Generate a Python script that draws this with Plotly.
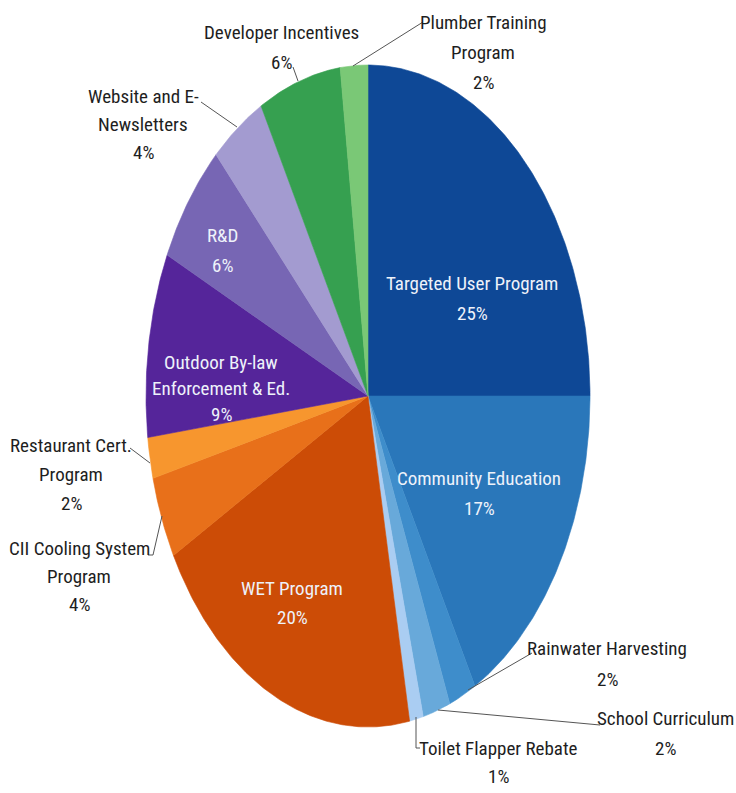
import numpy as np
import plotly.graph_objects as go

# Program budget share (%), clockwise from 12 o'clock
programs = [
    "Targeted User Program", "Community Education", "Rainwater Harvesting",
    "School Curriculum", "Toilet Flapper Rebate", "WET Program",
    "CII Cooling System Program", "Restaurant Cert. Program",
    "Outdoor By-law Enforcement & Ed.", "R&D", "Website and E-Newsletters",
    "Developer Incentives", "Plumber Training Program",
]
shares = [25, 17, 2, 2, 1, 20, 4, 2, 9, 6, 4, 6, 2]
colors = [
    "#0E4896", "#2A77BA", "#3E8DCB", "#68A9DA", "#AACDF2", "#CC4C06",
    "#E8701A", "#F7962E", "#55259A", "#7766B4", "#A39BD0", "#36A050", "#7AC876",
]

# Label text lines, one list per slice
label_lines = [
    ["Targeted User Program", "25%"],
    ["Community Education", "17%"],
    ["Rainwater Harvesting", "2%"],
    ["School Curriculum", "2%"],
    ["Toilet Flapper Rebate", "1%"],
    ["WET Program", "20%"],
    ["CII Cooling System", "Program", "4%"],
    ["Restaurant Cert.", "Program", "2%"],
    ["Outdoor By-law", "Enforcement & Ed.", "9%"],
    ["R&D", "6%"],
    ["Website and E-", "Newsletters", "4%"],
    ["Developer Incentives", "6%"],
    ["Plumber Training", "Program", "2%"],
]
inside = [True, True, False, False, False, True, False, False, True, True, False, False, False]

W, H = 736, 793
CX, CY, RX, RY = 368, 396, 222, 331

# label placement: (centre x, first line y, line step)
label_pos = [
    (472, 283, 30), (479, 478, 30), (607, 648, 31), (665, 718, 30),
    (498, 748, 28), (292, 588, 29), (79, 548, 28), (71, 445, 29),
    (221, 362, 26), (222, 235, 30), (143, 96, 28), (281, 32, 30),
    (483, 22, 30),
]

# leader lines for the outside labels
leaders = [
    [(423, 22), (353, 66)],
    [(293, 67), (298, 81)],
    [(201, 102), (237, 127)],
    [(130, 448), (150, 463)],
    [(148, 555), (153, 555), (162, 516)],
    [(532, 653), (468, 690)],
    [(600, 725), (438, 710)],
    [(420, 748), (416, 748), (416, 717)],
]

fig = go.Figure()

total = sum(shares)
start = 0.0
for name, val, col in zip(programs, shares, colors):
    a0 = start / total * 2 * np.pi
    a1 = (start + val) / total * 2 * np.pi
    t = np.linspace(a0, a1, max(8, int(val * 6)))
    xs = np.concatenate([[CX], CX + RX * np.sin(t), [CX]])
    ys = np.concatenate([[CY], CY - RY * np.cos(t), [CY]])
    fig.add_trace(go.Scatter(
        x=xs, y=ys, mode="lines", fill="toself", fillcolor=col,
        line=dict(color=col, width=0.6), name=name,
        hoverinfo="text", text=f"{name}: {val}%", showlegend=False,
    ))
    start += val

FONT = "Liberation Sans Narrow, Arial Narrow, Roboto Condensed, sans-serif"
for lines, (lx, ly, step), ins in zip(label_lines, label_pos, inside):
    for i, s in enumerate(lines):
        fig.add_annotation(
            x=lx, y=ly + i * step, text=s, showarrow=False,
            xanchor="center", yanchor="middle",
            font=dict(family=FONT, size=19, color="#EEF2FA" if ins else "#1E1E1E"),
        )

for pts in leaders:
    fig.add_trace(go.Scatter(
        x=[p[0] for p in pts], y=[p[1] for p in pts], mode="lines",
        line=dict(color="#555555", width=1), hoverinfo="skip", showlegend=False,
    ))

fig.update_layout(
    width=W, height=H, margin=dict(l=0, r=0, t=0, b=0),
    paper_bgcolor="white", plot_bgcolor="white",
    xaxis=dict(range=[0, W], visible=False, fixedrange=True),
    yaxis=dict(range=[H, 0], visible=False, fixedrange=True),
)

fig.write_html("out.html")
